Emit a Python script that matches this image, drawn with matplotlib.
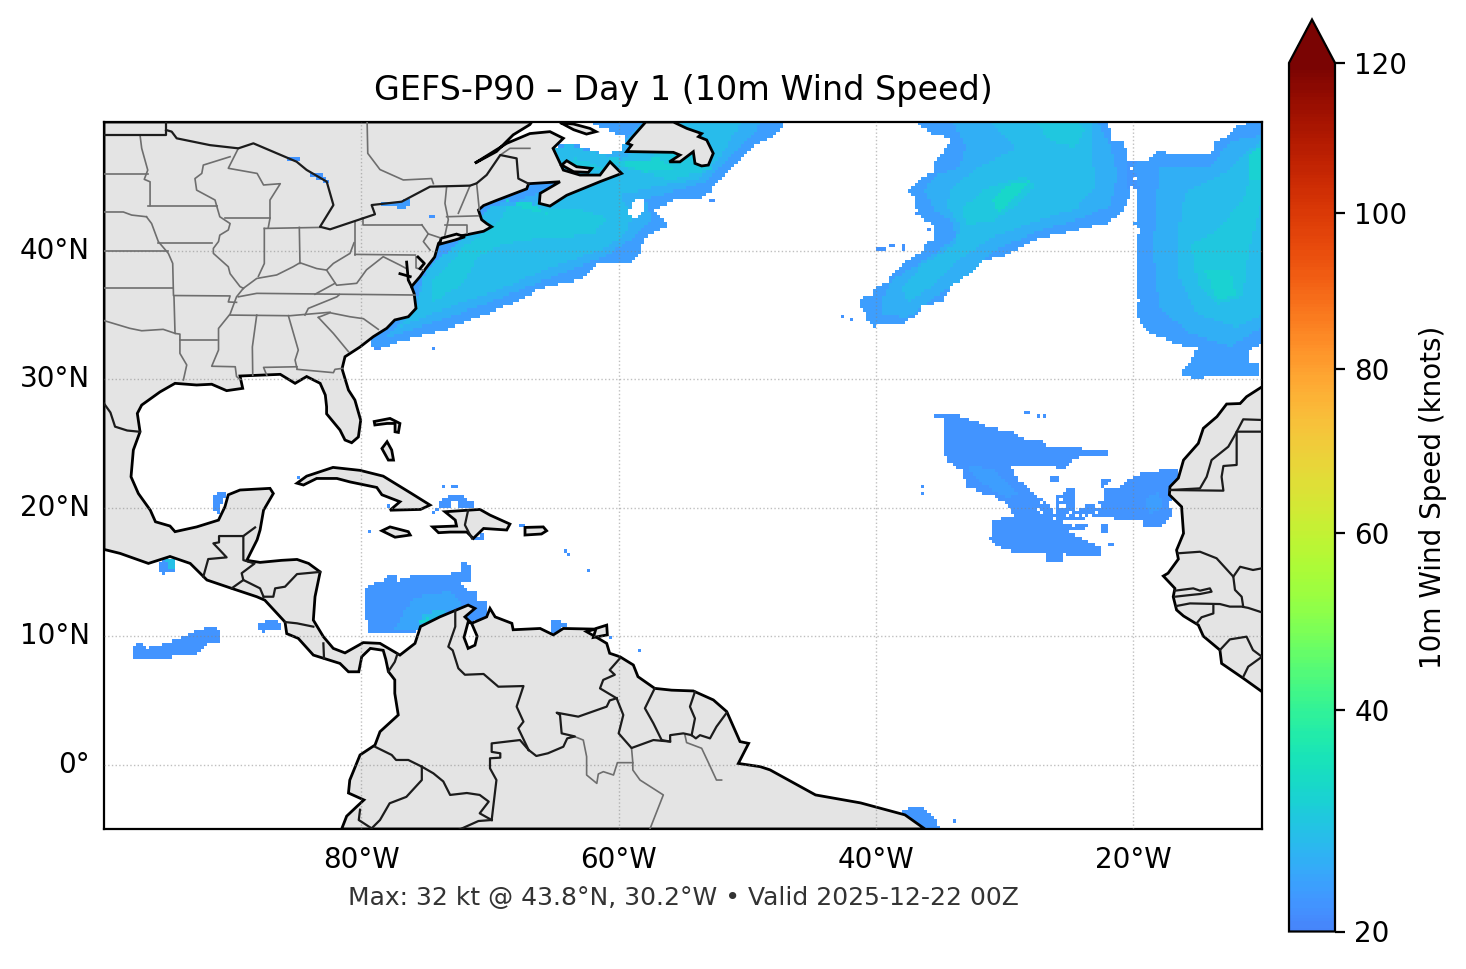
import numpy as np
import matplotlib
matplotlib.use('Agg')
import matplotlib.pyplot as plt
from matplotlib.colors import LinearSegmentedColormap, PowerNorm
from matplotlib.path import Path
from matplotlib.patches import Polygon

# Map outlines, (lon, lat)
continent = [(-100,50),(-100,16.75),(-98.75,16.44),(-96.55,15.66),(-94.87,16.2),(-93.3,15.66),(-92,14.37),(-90.08,13.72),
    (-88.13,13.07),(-87.5,12.8),(-85.93,11.1),(-85.8,10.2),(-84.9,9.83),(-83.73,8.53),(-81.66,7.88),(-81,7.23),(-80.2,7.23),
    (-79.97,8.4),(-79.3,9.05),(-78.3,8.9),(-78.1,8.2),(-77.9,7.25),(-77.4,6.6),(-77.4,5.55),(-77.13,3.87),(-78.55,2.57),
    (-78.94,1.53),(-80.1,.76),(-80.9,-1.2),(-81,-2.2),(-79.8,-2.74),(-80.36,-3.26),(-81.14,-4),(-81.53,-5),(-36.2,-5),
    (-37.75,-3.9),(-41.2,-2.97),(-44.7,-2.35),(-48.24,-.4),(-49,-.15),(-50.7,.1),(-49.9,1.66),(-50.57,1.8),(-51.6,4.13),
    (-52.64,5.04),(-54.2,5.74),(-55.88,5.8),(-57.2,5.94),(-58.5,6.85),(-58.86,7.76),(-59.9,8.4),(-60.7,8.67),(-60.93,9.44),
    (-61.7,9.9),(-62.5,10.35),(-61.84,10.55),(-64.3,10.6),(-65.08,10.1),(-66.1,10.6),(-68.2,10.5),(-68.3,11),(-69.6,11.5),
    (-70,12.16),(-70.26,11.5),(-71.43,11),(-71.95,11.5),(-71.17,12.16),(-71.7,12.42),(-73.9,11.5),(-75.4,10.75),(-75.83,9.44),
    (-77,8.53),(-78.55,9.44),(-79.85,9.5),(-81.27,8.7),(-82.18,9.05),(-82.95,9.96),(-83.73,11.25),(-83.6,13.07),(-83.2,15),
    (-84.1,15.66),(-85,15.97),(-86.2,15.9),(-87.87,15.74),(-88.9,15.9),(-88.1,17.5),(-87.87,18.26),(-87.6,19.8),(-86.84,21.1),
    (-87.1,21.5),(-89.43,21.37),(-90.34,21),(-90.6,20.07),(-91.1,19.03),(-92.8,18.5),(-94.48,18.13),(-94.87,18.57),(-96,18.9),
    (-96.4,19.8),(-97.33,21.1),(-97.9,22.4),(-97.72,24.48),(-97.2,25.9),(-97.41,27.33),(-97.07,27.98),(-95.65,29),(-94.48,29.67),
    (-92.8,29.54),(-91.63,29.6),(-90.47,29.1),(-89.22,29.28),(-89.43,30.24),(-86.3,30.37),(-85.15,29.67),(-84.25,30.2),(-83.2,29.67),
    (-82.8,28.76),(-82.7,27.85),(-82.7,27.3),(-81.66,26.04),(-81.27,25.26),(-80.75,25.05),(-80.23,25.5),(-80.05,26.8),(-80.5,28.37),
    (-81,29.15),(-81.5,30.8),(-81.27,31.74),(-80.1,32.5),(-79.07,33.3),(-78.03,33.95),(-77.4,34.6),(-76.35,34.85),(-75.75,35.5),
    (-75.9,36.67),(-76.1,37.2),(-75.44,37.97),(-75,38.6),(-74.3,39.5),(-74,40.56),(-73.6,40.95),(-71.95,41.2),(-70.5,41.5),
    (-69.87,41.85),(-70.26,42.1),(-70.65,42.4),(-70.9,43.15),(-70.5,43.5),(-69.5,43.9),(-67.15,44.8),(-67,45.2),(-64.56,45.35),
    (-66.1,44.45),(-66.17,43.67),(-65.34,43.46),(-64.04,44.3),(-61.45,45.36),(-59.77,46),(-60.67,46.9),(-61.45,45.87),(-63,45.87),
    (-64.3,46.26),(-65.1,47.95),(-64.3,48.73),(-65.34,49.25),(-66.9,49.1),(-68.7,48.34),(-71.17,46.8),(-69.5,47.7),(-68.2,49),
    (-66.9,49.8),(-66.76,50)]
anticosti = [(-64.56,49.95),(-63.5,49.84),(-62.23,49.5),(-61.76,49.25),(-62.5,49.06),(-63.5,49.4),(-64.43,49.9)]
newfoundland = [(-57.9,50),(-58.9,48.86),(-59.33,48.34),(-59,48.2),(-59.38,47.7),(-55.75,47.64),(-55.24,47.43),(-56.06,46.9),(-55.24,46.9),
    (-54.2,47.69),(-54.07,46.78),(-53.55,46.58),(-53.03,46.65),(-52.65,47.56),(-53.16,48.6),(-53.8,48.86),(-53.55,49.1),(-54.7,49.5),(-55.75,50)]
pei = [(-64.43,46.65),(-64.04,46.99),(-63.27,46.52),(-62.1,46.39),(-62.36,46.08),(-63.5,46.13)]
long_island = [(-73.81,40.95),(-72.6,41.28),(-71.95,41.07),(-72.72,40.82),(-73.89,40.5)]
cuba = [(-85,21.9),(-84.25,22.45),(-82.2,23.13),(-80.1,22.9),(-78.3,22.45),(-76.1,21.1),(-74.66,20.2),(-75.4,19.86),(-77.77,19.8),
    (-77,20.46),(-78.4,21),(-78.8,21.57),(-80.88,22),(-81.9,22.27),(-83.47,22.27),(-84.5,21.76)]
jamaica = [(-78.4,18.2),(-77.77,18.5),(-76.35,18.13),(-76.2,17.87),(-77.38,17.7)]
andros = [(-78.4,24.6),(-78,25.13),(-77.64,24.48),(-77.5,23.7),(-77.9,23.7)]
abaco = [(-79,26.7),(-77.77,26.94),(-77,26.55),(-77.12,25.85),(-77.38,25.9),(-77.38,26.55),(-78,26.55),(-78.95,26.43)]
hispaniola = [(-73.5,19.68),(-71.7,19.8),(-70.78,19.86),(-70,19.42),(-68.45,18.72),(-68.7,18.26),(-70.5,18.38),(-71.3,17.6),(-71.8,18.1),
    (-73.1,18.1),(-74,18.05),(-74.46,18.5),(-72.6,18.57),(-72.7,19.03)]
puerto_rico = [(-67.28,18.46),(-65.86,18.5),(-65.6,18.2),(-66,17.95),(-67.28,17.87)]
trinidad = [(-61.76,10.6),(-60.93,10.86),(-60.88,10.1),(-61.97,9.9)]
africa = [(-9,29.9),(-10,29.4),(-11.2,28.63),(-11.7,28.1),(-12.75,28.06),(-13.5,27.08),(-14.56,26.17),(-14.95,25),(-16.1,23.7),(-16.5,22.3),
    (-17.15,21.63),(-17.2,21),(-16.25,20.07),(-16.1,18),(-16.64,16.7),(-16.5,16),(-17.3,14.9),(-17.67,14.68),(-16.77,13.72),(-16.9,13.07),
    (-16.64,12.04),(-16.1,11.57),(-14.95,10.87),(-14.56,10),(-13.27,8.92),(-13.14,7.88),(-11.45,6.72),(-10,5.68),(-9,5)]
islands = [anticosti, newfoundland, pei, long_island, cuba, jamaica, andros, abaco, hispaniola, puerto_rico, trinidad, africa]
lake_maracaibo = [(-71.7,11.1),(-72.02,9.9),(-71.7,9.05),(-71.17,9.3),(-71,10),(-71.43,11)]

# Country borders
country_lines = [
    [(-100,49),(-95.2,49),(-95.2,50)],
    [(-95.18,49.38),(-94.74,49.25),(-94.35,48.73),(-91.76,48.2),(-89.56,47.95),(-88.39,48.34),(-85.03,46.91),(-84.25,46.27),(-82.69,45.36),
     (-82.17,43.54),(-83.21,41.85),(-82.43,41.65),(-78.94,42.82),(-79.2,43.54),(-76.87,43.8),(-74.66,44.97),(-71.55,45.05),(-71.04,45.23),
     (-70.26,45.88),(-69.2,47.43),(-67.93,47.17),(-67.8,45.6),(-67,45.2)],
    [(-100,28.1),(-99.5,27.4),(-99.14,26.3),(-98.2,26),(-97.2,25.9)],
    [(-92.28,14.63),(-91.9,16),(-90.47,16.13),(-91,16.7),(-91.5,17.22),(-91.06,17.3),(-91.06,17.79),(-89.17,17.79),(-89.17,15.92),(-88.78,15.8)],
    [(-89.17,17.79),(-88.26,18.46)],
    [(-88.78,15.8),(-88.3,15.65),(-89.3,14.9),(-89.17,14.37),(-90.08,13.72)],
    [(-89.17,14.37),(-87.87,13.72),(-87.6,13.07)],
    [(-83.2,15),(-85,14.83),(-85.93,13.85),(-86.7,13.72),(-86.84,13.07),(-87.6,13.07)],
    [(-85.93,11.1),(-85,11),(-83.73,10.74)],
    [(-82.95,9.44),(-82.9,8.27)],
    [(-77.2,8.6),(-77.4,8),(-77.9,7.25)],
    [(-71.7,19.8),(-71.95,18.65),(-71.4,17.6)],
    [(-72.7,12),(-72.7,10.74),(-73.24,9.18),(-72.9,8.9),(-72.46,7.5),(-71.95,7),(-70.5,7.06),(-69.35,6.07),(-67.4,6.12),(-67.93,4.52),(-67.4,3.35),(-67.8,2.83),(-67,1.15)],
    [(-67,1.15),(-66.4,.68),(-65.5,.89),(-64.3,1.4),(-64,2.05),(-63.4,2.2),(-64.43,2.44),(-64.56,3.87),(-64.82,4.05),(-63.14,3.74),(-60.93,4.52),(-60.7,5),(-60.16,5.17)],
    [(-60.16,5.17),(-61.45,5.94),(-61.2,6.6),(-60.3,7),(-60.7,7.37),(-59.9,8.28)],
    [(-60.16,5.17),(-59.64,3.87),(-60,2.44),(-59,1.3),(-57.3,1.92),(-56,1.8)],
    [(-57.2,5.94),(-57.96,4.39),(-57.3,3.22),(-56.66,1.92)],
    [(-56.66,1.92),(-56,1.8),(-56,2.3),(-54.98,2.44),(-54.33,2.3)],
    [(-54.07,5.68),(-54.46,4.52),(-54.07,3.6),(-54.33,2.3)],
    [(-54.33,2.3),(-54,2.05),(-53.68,2.3),(-52.9,2.05),(-52.4,2.96),(-51.6,4.05)],
    [(-67,1.15),(-67.67,1.92),(-69.87,1.66),(-69.87,1),(-69.2,.89),(-69.2,.55),(-70,.5),(-70,-.28),(-69.5,-1.19),(-69.87,-4.3)],
    [(-78.94,1.4),(-77.64,.76),(-77.3,.37),(-76.35,.37),(-75.3,-.15)],
    [(-75.3,-.15),(-74.4,-.67),(-73.63,-1.3),(-73.1,-2.35),(-71.8,-2.2),(-70.8,-2.35),(-70.1,-2.87),(-70.8,-3.78),(-69.87,-4.3)],
    [(-69.87,-4.3),(-70.9,-4.38),(-72.46,-5.08)],
    [(-75.3,-.15),(-75.3,-1.19),(-76.5,-2.5),(-77.8,-3),(-78.55,-4.3),(-79.2,-4.95),(-80.2,-4.3),(-80.1,-3.5)],
    [(-10,26.82),(-11.46,26.87),(-12.1,25.65),(-12.62,24.74),(-13.92,23.7),(-14.3,22.4),(-14.82,21.5),(-17.15,21.37)],
    [(-10,25.91),(-11.97,25.91),(-11.97,23.32),(-13,23.24),(-13.14,22.4),(-13,21.32),(-17.15,21.37)],
    [(-16.5,16.45),(-14.82,16.57),(-13.53,16.06),(-12.23,14.63),(-12.1,13.6),(-11.58,13.07),(-11.46,12.3)],
    [(-12.23,14.63),(-11.7,15.4),(-10.7,15.15),(-10,15.28)],
    [(-16.77,13.54),(-15.34,13.72),(-14.82,13.54),(-14.05,13.72),(-13.92,13.46),(-14.82,13.28),(-15.6,13.2),(-16.77,13.07)],
    [(-16.64,12.35),(-15.6,12.55),(-13.27,12.5),(-12.5,12.3),(-11.58,12.3),(-11.07,12.2),(-10,11.85)],
    [(-13.78,12.43),(-13.78,11.77),(-14.7,11.47),(-15.08,11)],
    [(-13.27,8.92),(-12.5,9.75),(-11.2,9.96),(-10.7,8.92),(-10,8.4)],
    [(-11.45,6.85),(-11.07,7.63),(-10,8.4)],
]
chesapeake = [
    [(-76.48,39.1),(-76.35,37.7),(-76.1,37.2)],
    [(-77,38.2),(-76.2,37.97)],
    [(-75.6,39.5),(-75.1,39),(-75.44,38.6)],
]

# State and province lines
state_lines = [
    [(-100,45.95),(-96.6,45.95)],
    [(-100,43),(-98.5,43),(-97.85,42.76),(-96.7,42.63)],
    [(-100,40),(-95,40)],
    [(-100,37.05),(-94.6,37.05)],
    [(-100,34.55),(-98,33.95),(-97.07,33.76),(-95.4,33.87),(-94.48,33.56)],
    [(-97.2,48.98),(-97.07,47.95),(-96.6,46.26),(-96.87,45.54),(-96.42,45.35),(-96.42,43.5)],
    [(-96.55,43.46),(-91.24,43.46)],
    [(-90.2,47.3),(-92.28,46.65),(-92.4,46),(-92.93,45.6),(-92.8,44.7),(-91.37,43.93),(-91.24,43.46)],
    [(-91.24,43.46),(-91,42.63),(-90.2,42.1),(-90.34,41.6),(-91,41.2),(-91.1,40.7),(-91.5,40.17),(-91.5,39.78),(-90.34,38.74),(-90.2,38.2),(-89.43,37.2),(-89.17,37.06)],
    [(-90.6,42.5),(-87.1,42.5)],
    [(-89.56,47.95),(-90.34,46.4),(-88.1,46),(-87.6,45.1),(-86.3,45.2),(-87.1,43.93),(-87.1,42.5),(-87.23,41.8)],
    [(-95.78,40.6),(-91.63,40.6)],
    [(-96.7,42.63),(-96.3,42.1),(-95.78,40.7),(-95,39.78),(-94.66,39),(-94.6,36.5),(-90.2,36.47),(-90.34,36),(-89.7,35.97)],
    [(-94.56,36.4),(-94.48,33.55),(-94.1,33.5),(-94.1,32),(-93.57,31.1),(-93.83,29.93)],
    [(-94.1,33.03),(-91.19,33.03)],
    [(-89.17,37.06),(-89.7,36.4),(-90.2,35.06),(-91.1,33.94),(-91.1,32.26),(-91.63,31),(-89.8,30.96),(-89.7,30.2),(-89.43,29.98)],
    [(-89.56,36.4),(-88.13,36.67),(-75.83,36.54)],
    [(-90.2,34.98),(-85.54,34.93),(-82.43,35.2)],
    [(-84.38,34.98),(-84.12,35.5),(-81.9,36.4),(-81.7,36.58)],
    [(-83.6,36.6),(-82.05,37.45)],
    [(-89.17,37.06),(-88.13,37.83),(-86.58,38.1),(-85.3,38.74),(-84.77,39.05),(-83.47,38.6),(-82.7,38.48),(-82.17,39),(-80.88,39.78),(-80.57,40.6)],
    [(-87.54,41.72),(-87.54,38.99),(-88,38)],
    [(-84.82,41.8),(-84.77,39)],
    [(-87.54,41.72),(-83.21,41.8)],
    [(-80.49,42.24),(-80.49,39.65)],
    [(-80.49,39.7),(-75.8,39.65)],
    [(-79.84,42.5),(-79.84,42),(-75.3,42)],
    [(-75.3,42),(-74.8,41.3),(-75.18,40.7),(-74.66,40.04)],
    [(-74.8,41.3),(-73.9,41)],
    [(-82.7,38.48),(-81.92,37.3),(-80.36,37.45),(-79.6,38.5),(-78.3,39.52),(-77,38.87),(-76.5,38.6)],
    [(-88.13,34.98),(-88.47,32.5),(-88.44,30.3)],
    [(-85.67,34.93),(-84.9,32.26),(-85.15,31.48),(-85,30.83)],
    [(-87.35,30.3),(-87.6,30.91),(-85,30.96)],
    [(-85,30.76),(-82.17,30.5),(-82.05,30.76),(-81.5,30.83)],
    [(-83.34,34.8),(-82.43,35.16),(-80.88,34.85),(-79.84,34.7),(-78.68,33.87)],
    [(-83.34,34.8),(-82.17,33.55),(-81,32.13)],
    [(-73.37,44.97),(-73.5,43.67),(-73.24,42.4),(-73.5,41.2)],
    [(-73.37,42.63),(-70.9,42.7)],
    [(-73.5,41.99),(-71.8,41.99),(-71.8,41.34)],
    [(-71.55,45.05),(-72.46,42.9)],
    [(-71.04,45.23),(-70.83,43.15)],
    [(-75.75,39.5),(-75.75,38.65),(-75.2,38.48)],
    [(-79.55,50),(-79.5,47.56),(-78.55,46.3),(-76.74,45.49),(-74.54,45.6),(-74.4,45.2)],
    [(-69.2,47.43),(-68.45,47.95),(-66.9,47.95)],
    [(-63.4,2.18),(-62.75,1.92),(-62.49,.63),(-62.49,-.8),(-61.7,-1.45),(-61.58,-.72),(-61.19,-.54),(-60.4,-.8),(-60.1,.16),(-58.9,.16),(-58.9,-.41),(-58.34,-1.19),(-56.53,-2.35),(-57.57,-5)],
    [(-59,1.3),(-58.9,.16)],
    [(-54.85,2.31),(-54.72,1.72),(-53.55,1.28),(-53,.11),(-52.4,-1.19),(-52,-1.19)],
]

# Wind areas over open water: (lon, lat) outlines, the speed in knots
atl_coast_23 = [(-79.33,32.52),(-78.03,32.52),(-76.74,33.04),(-74.92,33.43),(-73.37,33.82),(-72.59,34.2),(-70.78,34.85),(-69.48,35.37),(-67.41,36.28),
    (-66.11,37.05),(-64.3,37.45),(-62.75,37.84),(-61.71,39),(-59.12,39),(-58.34,39.91),(-57.83,41.08),(-56.14,41.99),(-57.31,43.15),(-55.75,43.93),
    (-53.81,43.93),(-52.9,44.58),(-52.13,45.49),(-50.83,46.91),(-49.54,48.08),(-47.72,48.99),(-47.07,50),(-65.1,50),(-65.1,46),(-70,44.5),(-70.5,44),
    (-71,42),(-74.5,41),(-75.5,38.5),(-76.5,36),(-78.5,34.5),(-79.33,33.3)]
atl_coast_25 = [(-78.2,33.1),(-74,34.5),(-69.5,36.2),(-65,38),(-61,39.6),(-58.8,41),(-57.5,42.5),(-58,44),(-55,44.8),(-53,45.5),(-50.5,48.1),(-48.8,50),
    (-58,50),(-59.5,48.5),(-62,47.7),(-64,48),(-65,47),(-65,45),(-68,43.8),(-70,43.5),(-72,41),(-75,38.5),(-75.8,36),(-77,34.5)]
atl_coast_27 = [(-77,34),(-74,35.3),(-69.5,36.9),(-65,38.8),(-61,40.2),(-59.3,41.5),(-59,43),(-60,44.3),(-57,45),(-54,45.5),(-52,47.5),(-50.5,50),(-56,50),
    (-58.5,48),(-60.5,46.5),(-63,45),(-66.5,43.6),(-70,43.5),(-72,41),(-75,38.5),(-75.5,36)]
atl_coast_29 = [(-74.5,36),(-72,37.5),(-71,39.5),(-69,40.5),(-66,41),(-62,41.2),(-61,42.5),(-63,43.2),(-66,43.3),(-68.5,43.6),(-69.5,42),(-72,40.3),(-74.5,37.5)]
atl_coast_31 = [(-68.8,43.9),(-67,43.2),(-65.5,42.8),(-66.5,43.6)]
labrador_29 = [(-61.5,47.2),(-60,46.6),(-56,45.5),(-52.8,46.3),(-53.5,48),(-56,49.5),(-57.5,47)]
labrador_31 = [(-60,46.8),(-57,47.2),(-55.5,46.4),(-58,46.1)]
gulf_hole = [(-65.1,50),(-62.23,50),(-61.2,49.5),(-59.38,48.86),(-59.9,47.82),(-60.93,47.43),(-61.97,47.77),(-63.8,48.34),(-65.1,48.08)]
sable_hole = [(-59.38,42.9),(-58.73,43.93),(-57.88,44.06),(-57.96,43.15),(-58.73,42.45)]
gulf_27 = [(-65,48),(-63.8,48.2),(-62,47.7),(-61,47.4),(-60,46),(-62,45.5),(-65,46)]
gulf_29 = [(-63.5,47.2),(-62,46.8),(-61.2,46.4),(-62.3,46.2),(-64,46.8)]

mid_atl_23 = [(-36.84,50),(-35.8,49.1),(-34.1,48.7),(-34.77,47.69),(-35.42,47),(-35.42,46.13),(-36.7,45.5),(-37.41,44.58),(-36.97,43.93),(-36.84,42.9),
    (-36.07,42.25),(-35.42,41.86),(-35.42,40.8),(-36.07,40.56),(-36.46,39.9),(-37.88,39),(-38.9,37.96),(-39.18,37.45),(-39.95,37.26),(-40.34,36.54),(-41.25,36.28),
    (-41.12,35.37),(-40.47,34.98),(-40.86,34.72),(-40.21,33.94),(-39.95,34.2),(-38.14,34.2),(-36.84,34.98),(-36.46,35.63),(-34.9,36),(-34,37.45),(-32.96,38.2),
    (-31.92,39.13),(-30.89,39.39),(-29.85,39.65),(-28.94,40.17),(-27.52,40.87),(-24.93,41.47),(-22.08,42.11),(-20.91,42.9),(-20.4,43.93),(-20.13,45.2),(-20,46.13),
    (-20.52,47.04),(-20.65,48.34),(-21.69,48.6),(-21.95,50)]
mid_atl_25 = [(-34,50),(-33,48),(-33.5,46.5),(-35.5,45.8),(-36.2,44.6),(-35.5,43.2),(-34,42.2),(-33.8,41),(-35.4,39.8),(-38.7,37.7),(-39.5,36.4),(-39.5,35),(-37.5,34.8),
    (-35.5,36.3),(-33,38),(-31,39.9),(-27.5,41.5),(-24,42.5),(-21.8,43.5),(-21.2,46),(-21.8,48),(-22.8,50)]
mid_atl_27 = [(-31,50),(-29,48),(-32,46.5),(-34,45),(-34.5,43.5),(-33.5,42),(-33.8,40.5),(-36.5,38.8),(-38,37),(-37.5,36),(-36,37),(-34,39),(-31,41),(-27,42.5),(-24.5,43.2),
    (-23,45),(-23.2,47.5),(-23.2,50)]
mid_atl_29 = [(-33.3,43.3),(-31.5,44.8),(-28.5,45.8),(-27.5,45),(-29.5,43.2),(-31,42.3),(-33,42)]
mid_atl_top_29 = [(-27.5,50),(-26.5,48.5),(-24.5,48),(-23.8,49.3),(-24.2,50)]
mid_atl_32 = [(-31,44),(-29.5,45.2),(-28,45.4),(-29.5,43.8),(-30.5,43)]
mid_east_bridge = [(-20.5,47),(-19,47),(-19,44.8),(-20.5,44.8)]

east_atl_23 = [(-20.13,46.78),(-18.58,47.17),(-18.06,47.77),(-17.42,47.56),(-13.92,47.56),(-13.79,48.34),(-12.75,48.86),(-12.1,49.64),(-10.94,50),(-10,50),(-10,32.9),
    (-10.94,32.13),(-11,31.35),(-10.3,31.1),(-10.16,30.3),(-12.75,30.2),(-14,30.3),(-14.8,29.93),(-16.38,30.44),(-15.47,31.48),(-15.08,32.4),(-16.1,32.5),(-17.15,33),
    (-18.7,33.55),(-19.36,34.33),(-19.8,35.1),(-19.6,36.15),(-19.88,36.4),(-19.8,37.96),(-19.6,41.6),(-19.88,42.1),(-19.6,45)]
east_atl_25 = [(-18,46.5),(-14,46.5),(-12.5,48.5),(-10,49),(-10,34),(-12.5,32.5),(-15.5,33.5),(-18,35.5),(-18.5,40)]
east_atl_27 = [(-16,44.5),(-13,46),(-11.5,47.5),(-10,48.5),(-10,35),(-12,34),(-15,35),(-16.5,38),(-16.5,41.5)]
east_atl_29 = [(-15.5,40.5),(-13.5,41.5),(-11.5,44),(-10,48),(-10,44),(-11,40),(-11.5,36.5),(-13.5,35.8),(-15,37.5)]
east_atl_31 = [(-14.5,38.5),(-12.5,38.5),(-12,36.5),(-13.5,36.2)]
east_atl_top_31 = [(-10.9,47.5),(-10,48.2),(-10,45.5),(-11,45.5)]

canary_west_21 = [(-35.42,27.34),(-34.25,27.34),(-33.22,27.08),(-31.92,26.56),(-31.15,26.17),(-29.46,26.04),(-28.68,25.39),(-27.26,25.31),(-26.87,24.87),(-24,24.87),(-23.9,24.56),
    (-21.95,24.56),(-21.95,24.1),(-23.9,24.1),(-24.67,23.6),(-25.45,22.93),(-25.96,22.93),(-25.96,23.32),(-29.46,23.32),(-29.07,22.28),(-27.78,21.11),(-26.74,20.46),(-25.96,19.3),
    (-29.33,19.3),(-29.59,20.07),(-30.76,20.85),(-32.05,21.24),(-32.96,21.63),(-33.22,22.8),(-34.38,23.58),(-34.9,24.35),(-34.64,24.61),(-34.64,26.82),(-35.42,27.08)]
canary_mid_21 = [(-25.96,20.85),(-24.93,21.58),(-24.41,21.37),(-24.41,19.95),(-22.34,20.46),(-22.34,19.3),(-24.41,19.04),(-25.96,18.78)]
canary_east_21 = [(-22.34,21.37),(-21.17,21.5),(-19.88,22.54),(-18.58,22.8),(-16.4,23.06),(-16.4,21),(-17.28,20.33),(-16.9,19.43),(-17.67,18.78),(-17.93,18.4),(-19.1,18.52),(-19.23,19),
    (-21.3,18.9),(-21.55,19.3),(-22.34,19.4)]
canary_south_21 = [(-29.46,19.3),(-31,19),(-31.15,17.61),(-30.63,17.1),(-29.07,16.4),(-26.87,16.45),(-26.61,15.67),(-25.45,15.67),(-25.45,16.4),(-22.6,16.18),(-22.47,16.96),
    (-23.76,17.48),(-24.93,18.13),(-25.96,18.78),(-26.48,19.3)]
canary_patch_a = [(-22.4,22.3),(-21.7,22.3),(-22,21.9),(-22.4,21.6)]
canary_patch_b = [(-26.4,22.6),(-25.9,22.6),(-25.7,21.9),(-26.4,21.9)]
canary_patch_c = [(-22.6,18.8),(-22,18.8),(-22,17.9),(-22.6,17.9)]
canary_patch_d = [(-25.96,18.78),(-23.4,18.8),(-23.4,18.4),(-25,18.3)]
canary_core_23 = [(-33,23.4),(-31,23),(-28.8,21),(-30,20.8),(-32,22)]
canary_east_core_23 = [(-19,20.8),(-18,21.3),(-17.7,20),(-18.8,19.5)]

caribbean_22 = [(-79.85,13.72),(-79.46,13.98),(-78.42,14.24),(-77.9,14.83),(-77.4,14.83),(-77.13,14.37),(-76.35,14.5),(-76.09,14.83),(-74.67,14.83),(-74.54,14.63),(-73.11,14.63),
    (-72.85,15),(-72.2,15.14),(-72.2,15.8),(-71.69,15.8),(-71.43,14.89),(-71.43,14.37),(-72.2,14.11),(-71.82,13.59),(-71.04,13.46),(-70.9,12.81),(-70.13,12.55),(-70.26,11.5),
    (-71.55,11),(-73.9,11.5),(-75.57,10.74),(-75.83,10.17),(-79.59,10.17),(-79.64,11.77),(-79.85,12.03)]
caribbean_24 = [(-77.5,10.5),(-76,13),(-73,13.5),(-72,12.5),(-73.5,11.7),(-75.5,10.5)]
caribbean_27 = [(-75.7,10.4),(-75.2,11.8),(-73.5,12),(-74,11.4),(-75.3,10.9)]
caribbean_31 = [(-75.8,10.9),(-75,11.4),(-74.5,11.3),(-75.3,10.9)]
hispaniola_n = [(-73.9,20.07),(-73.9,20.6),(-72.85,21.03),(-72.2,21.03),(-71.43,20.46),(-71.17,20.12),(-72.4,20),(-72.6,20.4),(-73.1,20.4),(-73.1,20)]
hispaniola_w = [(-74.67,19.42),(-74,19.68),(-73.9,20),(-74.3,19.9)]
hispaniola_s = [(-71.3,17.35),(-71.17,17.7),(-70.4,18),(-70.5,17.6)]
mona = [(-67.8,18.7),(-67.15,18.65),(-67.54,18.4)]
lesser_antilles = [(-64.2,16.8),(-63.8,16.55),(-63.2,16.45),(-64.05,16.3)]
margarita = [(-65.2,11.25),(-64.7,11.25),(-64.56,11.05),(-63.9,11.05),(-63.9,10.73),(-64.4,10.73),(-64.8,10.2),(-65.3,10.27)]
tehuantepec_22 = [(-95.65,15.66),(-95.13,16.23),(-94.48,15.92),(-94.43,15.09),(-95.26,14.88),(-95.39,14.63),(-95.65,15)]
tehuantepec_28 = [(-95.2,15.9),(-94.6,15.9),(-94.6,15.2),(-95,15.2)]
campeche = [(-91.1,21.37),(-90.34,21.37),(-90.85,20.46),(-91.1,19.42),(-91.5,19.8),(-91.5,20.72)]
papagayo = [(-88.13,10.74),(-87.1,11.33),(-86.19,11),(-86.19,10.48),(-87.75,10.35)]
pacific_long = [(-97.67,9.31),(-96.94,9.57),(-96.81,9.05),(-95.13,9.44),(-92.93,10.35),(-92.02,10.79),(-91.37,10.79),(-90.93,10.22),(-91.11,9.57),(-92.02,9.44),(-92.93,8.53),
    (-94.48,8.4),(-96.55,8.14),(-97.67,8.27)]
natal = [(-38.14,-3.5),(-36.6,-3.2),(-35.65,-3.9),(-35,-5),(-37.2,-5),(-37.75,-4.3)]

wind_layers = [(23, atl_coast_23), (25, atl_coast_25), (27, atl_coast_27), (29, atl_coast_29), (31, atl_coast_31), (29, labrador_29), (31, labrador_31),
    (0, gulf_hole), (0, sable_hole), (27, gulf_27), (29, gulf_29),
    (23, mid_atl_23), (25, mid_atl_25), (27, mid_atl_27), (29, mid_atl_29), (29, mid_atl_top_29), (32, mid_atl_32), (22, mid_east_bridge),
    (23, east_atl_23), (25, east_atl_25), (27, east_atl_27), (29, east_atl_29), (31, east_atl_31), (31, east_atl_top_31),
    (21.5, canary_west_21), (21.5, canary_mid_21), (21.5, canary_east_21), (21.5, canary_south_21), (21.5, canary_patch_a), (21.5, canary_patch_b),
    (21.5, canary_patch_c), (21.5, canary_patch_d), (23, canary_core_23), (23, canary_east_core_23),
    (22, caribbean_22), (24, caribbean_24), (27, caribbean_27), (31, caribbean_31),
    (21.5, hispaniola_n), (21.5, hispaniola_w), (21.5, hispaniola_s), (21.5, mona), (21.5, lesser_antilles), (22, margarita),
    (22, tehuantepec_22), (28, tehuantepec_28), (21.5, campeche), (21.5, papagayo), (21.5, pacific_long), (22, natal)]

# Lake patches sit on top of the land
superior = [(-85.93,47.04),(-85.15,47.35),(-84.64,47.35),(-84.64,46.91)]
huron = [(-84.12,45.87),(-83.34,46.13),(-82.69,45.74),(-82.43,45.23),(-83.34,45.49)]
ontario = [(-78.68,43.85),(-76.87,43.85),(-76.22,44.14),(-76.35,43.41),(-77,43.1),(-77.4,43.41),(-78.68,43.67)]
lake_layers = [(21.5, superior), (21.5, huron), (22.5, ontario)]

# Single cells: lon, lat
speck_lon = [-84.77,-77.77,-79.32,-85.54,-42.67,-41.77,-39.95,-39.7,-39.45,-38.8,-38,-37.83,-38.53,-35.8,-36.97,-36.46,-36.27,-28.42,-28.2,-27,-26.8,-27.5,-21.82,-21.6,
    -52.9,-52.65,-74.28,-78.94,-78.7,-73.55,-72.9,-72.65,-62.28,-60.55,-58.35,-33.85]
speck_lat = [22.46,20.2,18.2,11.46,34.9,34.6,40,40.2,40.2,40.45,40.45,40.1,40.25,41.5,42.76,21.5,21.24,27.26,27.26,27,27,27,17.22,17.22,
    43.75,43.75,32.26,32.26,32.26,21.5,21.5,21.5,15.2,9.75,8.97,-4.45]
lake_speck_lon = [-74.67,-74.42]
lake_speck_lat = [42.71,42.71]
# gaps in the broken-up Canary area and between the two big northern areas
gap_lon = [-26.9,-26.65,-25.6,-25.35,-24.2,-23.9,-23.6,-23.2,-22.9,-24.5,-24,-23.4,-25.1,-24.8,-26.2,-25.6,-27.4,-27.1,-27.1,-23,-22.7,-24.6,-24.35,-20.1,-19.9,-20.1]
gap_lat = [20.8,20.8,20.5,20.2,20.6,20,20.3,20.8,20,19.4,19.3,19.4,19.4,19.6,19.6,20,19.9,20.4,19.7,19.5,20.2,18.6,19.8,46.3,45.5,44.9]

lat_ticks = [0, 10, 20, 30, 40]
lat_labels = ['0°', '10°N', '20°N', '30°N', '40°N']
lon_ticks = [-80, -60, -40, -20]
lon_labels = ['80°W', '60°W', '40°W', '20°W']
cbar_ticks = [20, 40, 60, 80, 100, 120]

title = 'GEFS-P90 – Day 1 (10m Wind Speed)'
note = 'Max: 32 kt @ 43.8°N, 30.2°W • Valid 2025-12-22 00Z'

# grid of the wind field
lon_edges = np.arange(-100, -10 + 0.125, 0.25)
lat_edges = np.arange(-5, 50 + 0.125, 0.25)
lon_c, lat_c = np.meshgrid(lon_edges[:-1] + 0.125, lat_edges[:-1] + 0.125)
pts = np.column_stack([lon_c.ravel(), lat_c.ravel()])


def paint(layers):
    field = np.zeros(lon_c.shape)
    for speed, outline in layers:
        inside = Path(outline + [outline[0]]).contains_points(pts).reshape(lon_c.shape)
        field[inside] = speed
    return field


def put(field, lons, lats, speed):
    for lo, la in zip(lons, lats):
        field[int((la + 5) / 0.25), int((lo + 100) / 0.25)] = speed


wind = paint(wind_layers)
put(wind, speck_lon, speck_lat, 21.5)
put(wind, gap_lon, gap_lat, 0)
lake_wind = paint(lake_layers)
put(lake_wind, lake_speck_lon, lake_speck_lat, 21.5)

cmap = LinearSegmentedColormap.from_list('turbo_cut', plt.cm.turbo(np.linspace(0.165, 1, 256)))
cmap.set_over(plt.cm.turbo(1.0))
norm = PowerNorm(gamma=0.85, vmin=20, vmax=120)

fig = plt.figure(figsize=(7.33, 4.845), dpi=200)
ax = fig.add_axes([104/1466, 1 - 829/969, 1158/1466, 707/969])
ax.set_xlim(-100, -10)
ax.set_ylim(-5, 50)

mesh = ax.pcolormesh(lon_edges, lat_edges, np.ma.masked_where(wind <= 0, wind), cmap=cmap, norm=norm, zorder=1)
ax.add_patch(Polygon(continent, closed=True, fc='#e4e4e4', ec='black', lw=1.0, zorder=2))
for shape in islands:
    ax.add_patch(Polygon(shape, closed=True, fc='#e4e4e4', ec='black', lw=1.0, zorder=2))
ax.add_patch(Polygon(lake_maracaibo, closed=True, fc='white', ec='black', lw=1.0, zorder=2.5))
ax.pcolormesh(lon_edges, lat_edges, np.ma.masked_where(lake_wind <= 0, lake_wind), cmap=cmap, norm=norm, zorder=2.6)

for line in state_lines:
    xs, ys = zip(*line)
    ax.plot(xs, ys, color='#6e6e6e', lw=0.6, zorder=3)
for line in country_lines:
    xs, ys = zip(*line)
    ax.plot(xs, ys, color='#1c1c1c', lw=0.8, zorder=3.2)
for line in chesapeake:
    xs, ys = zip(*line)
    ax.plot(xs, ys, color='black', lw=1.0, zorder=3.2)

ax.set_xticks(lon_ticks, lon_labels, fontsize=10)
ax.set_yticks(lat_ticks, lat_labels, fontsize=10, va='center')
ax.tick_params(length=0)
ax.tick_params(axis='x', pad=6)
ax.tick_params(axis='y', pad=5.2)
ax.grid(True, color='gray', alpha=0.5, ls=':', lw=0.5, zorder=4)
ax.set_axisbelow(False)
for sp in ax.spines.values():
    sp.set_linewidth(0.8)

ax.set_title(title, fontsize=12, pad=8)
ax.text(0.5, -0.098, note, transform=ax.transAxes, ha='center', va='center', fontsize=9, color='#333333')

# the axes holds the colour bar plus its arrow on top
cax = fig.add_axes([1289/1466, 1 - 931.5/969, 46/1466, 912/969])
cbar = fig.colorbar(mesh, cax=cax, extend='max', ticks=cbar_ticks)
cbar.set_label('10m Wind Speed (knots)', fontsize=10)
cbar.ax.tick_params(labelsize=10)

fig.savefig('out.png', dpi=200)
